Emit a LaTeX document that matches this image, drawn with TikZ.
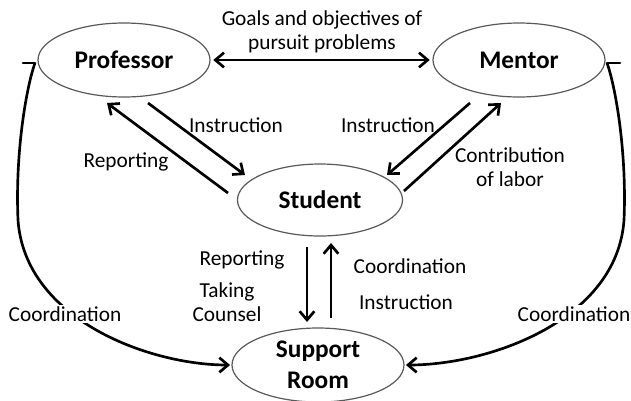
\documentclass[tikz,border=0pt]{standalone}
\usepackage{fontspec}
\setmainfont{Carlito}
\usetikzlibrary{shapes.geometric,arrows.meta}
\begin{document}
\begin{tikzpicture}[x=0.75pt,y=-0.75pt,
  ent/.style={ellipse,draw=black!65,line width=0.9pt,inner sep=0pt,
    minimum width=129pt,minimum height=55.5pt,
    font=\fontsize{19}{23}\selectfont\bfseries,align=center},
  lbl/.style={font=\fontsize{16}{18}\selectfont,align=center,inner sep=1pt},
  tip/.style={Straight Barb[length=6.5pt,width=11pt]},
  conn/.style={line width=2pt,-{Straight Barb[length=6.5pt,width=11pt]}},
  curve/.style={line width=2pt},
]
\useasboundingbox (0,0) rectangle (631,400);
\clip (0,0) rectangle (631,400);
% entities
\node[ent] (prof) at (124,60) {Professor};
\node[ent] (ment) at (519,60) {Mentor};
\node[ent,minimum width=123.75pt,minimum height=54pt] (stud) at (320,200) {Student};
\node[ent] (room) at (318,365) {Support\\Room};
% connector end points
\coordinate (p1) at (148,103);
\coordinate (s1) at (245,175);
\coordinate (s2) at (228,193);
\coordinate (p2) at (107,103);
\coordinate (m1) at (470,103);
\coordinate (s3) at (387,175);
\coordinate (s4) at (404,191);
\coordinate (m2) at (501,103);
\coordinate (s5) at (307,247);
\coordinate (r1) at (307,322);
\coordinate (r2) at (331,318);
\coordinate (s6) at (331,243);
\coordinate (lt) at (35,63);
\coordinate (ltick) at (23,63);
\coordinate (rt) at (607,63);
\coordinate (rtick) at (620,63);
% connectors
\draw[line width=2pt,{Straight Barb[length=6.5pt,width=11pt]}-{Straight Barb[length=6.5pt,width=11pt]},shorten <=2pt,shorten >=2pt] (prof.east) -- (ment.west);
\draw[conn] (p1) -- (s1);
\draw[conn] (s2) -- (p2);
\draw[conn] (m1) -- (s3);
\draw[conn] (s4) -- (m2);
\draw[conn] (s5) -- (r1);
\draw[conn] (r2) -- (s6);
\draw[curve,line cap=round] (ltick) -- (lt);
\draw[conn,shorten >=1pt] (lt) .. controls (27,85) and (15,150) .. (18,220)
  .. controls (25,320) and (150,365) .. (room.west);
\draw[curve,line cap=round] (rtick) -- (rt);
\draw[conn,shorten >=1pt] (rt) .. controls (615,85) and (627,150) .. (624,220)
  .. controls (617,320) and (490,365) .. (room.east);
% labels
\node[lbl] (goals) at (322,32) {Goals and objectives of\\pursuit problems};
\node[lbl] (instrL) at (236,125) {Instruction};
\node[lbl] (repL) at (126,162) {Reporting};
\node[lbl] (instrR) at (388,125) {Instruction};
\node[lbl] (contrib) at (510,167) {Contribution\\of labor};
\node[lbl] (repB) at (242,260) {Reporting};
\node[lbl] (taking) at (227,302) {Taking\\Counsel};
\node[lbl] (coordB) at (410,266) {Coordination};
\node[lbl] (instrB) at (406,302) {Instruction};
\node[lbl,fill=white] (coordL) at (65,314) {Coordination};
\node[lbl,fill=white] (coordR) at (574,314) {Coordination};
\end{tikzpicture}
\end{document}
